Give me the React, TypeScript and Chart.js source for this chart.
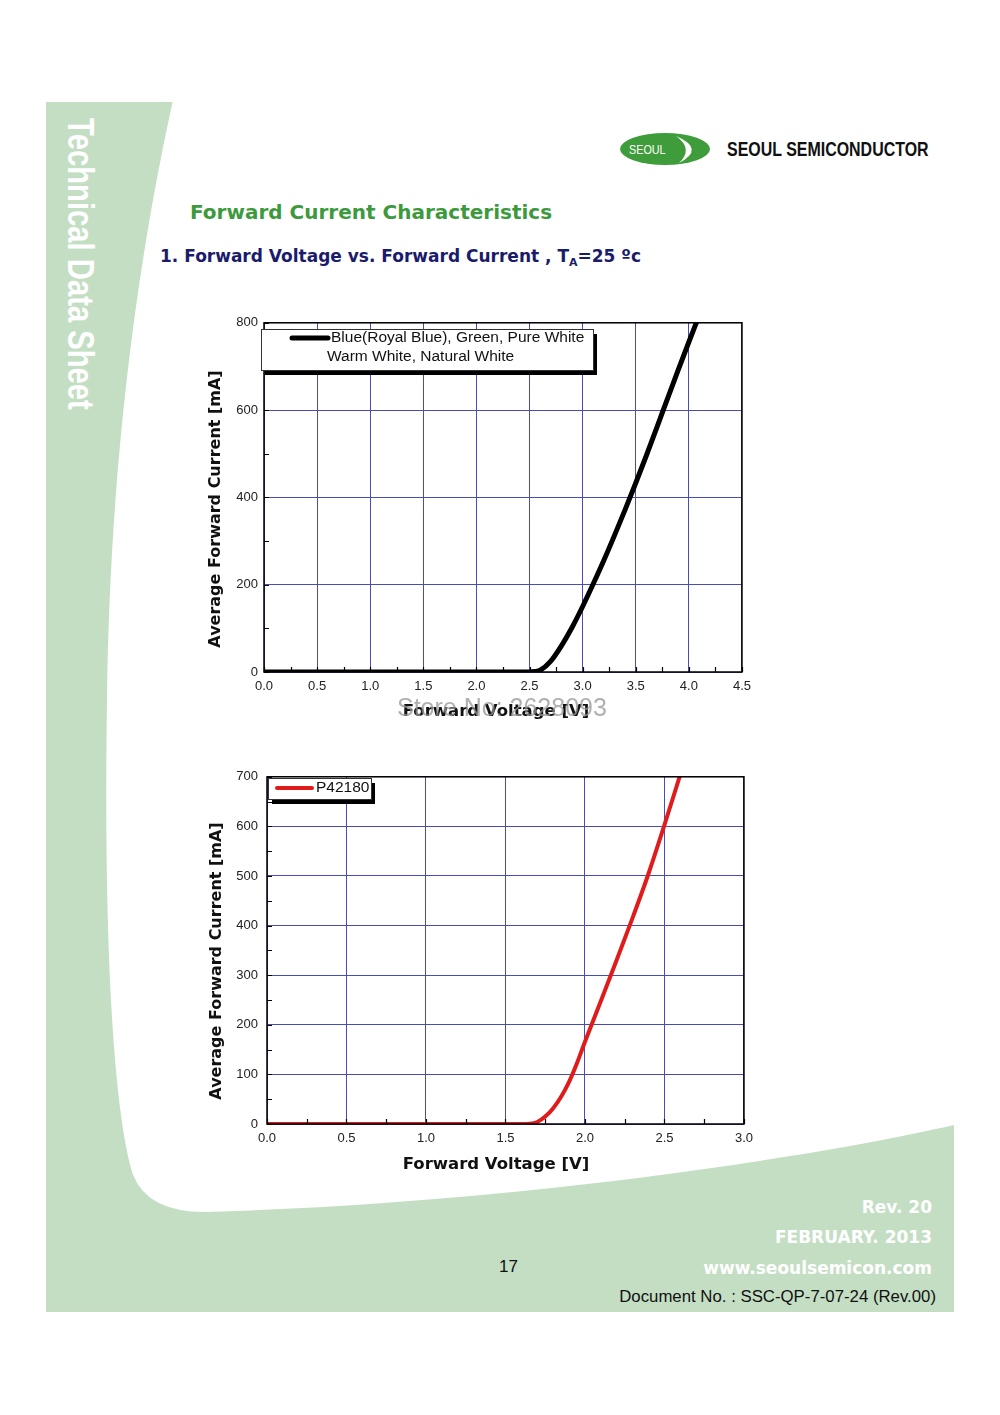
import { useEffect, useRef } from "react"
import { Chart, registerables } from "chart.js"

Chart.register(...registerables)

// Blue(Royal Blue), Green, Pure White, Warm White, Natural White
const blueVolts = [0, 2.5, 2.55, 2.6, 2.7, 2.8, 2.9, 3.0, 3.1, 3.2, 3.3, 3.4, 3.5, 3.6, 3.7, 3.8, 3.9, 4.0, 4.08]
const blueCurrent = [0, 0, 1, 4, 25, 60, 102, 150, 202, 256, 313, 372, 433, 496, 561, 627, 692, 756, 806]

// P42180
const redVolts = [0, 1.6, 1.65, 1.7, 1.75, 1.8, 1.85, 1.9, 1.95, 2.0, 2.1, 2.2, 2.3, 2.4, 2.5, 2.6]
const redCurrent = [0, 0, 0.5, 4, 15, 32, 55, 85, 123, 166, 248, 331, 416, 505, 603, 705]

const blueLegend = ["Blue(Royal Blue), Green, Pure White", "Warm White, Natural White"]
const redLegend = ["P42180"]

const xTitle = "Forward Voltage [V]"
const yTitle = "Average Forward Current [mA]"

const GRID = "#4a4ab8"
const TICK_FONT = "'Liberation Sans', Arial, sans-serif"
const TITLE_FONT = "'DejaVu Sans', Verdana, sans-serif"

interface LegendBox {
  x: number
  y: number
  w: number
  h: number
  lineX1: number
  lineX2: number
  textX: number[]
  rowY: number[]
}

interface FvChartProps {
  volts: number[]
  current: number[]
  color: string
  lineWidth: number
  xMax: number
  yMax: number
  yStep: number
  xMinor: number
  yMinor: number
  yPad: number
  legend: string[]
  box: LegendBox
  left: number
  top: number
  width: number
  height: number
  xAxisHeight: number
  xTitleAt: [number, number]
  yTitleAt: [number, number]
}

function FvChart(props: FvChartProps) {
  const chartRef = useRef<HTMLCanvasElement>(null)
  const chartInstance = useRef<Chart | null>(null)

  useEffect(() => {
    if (!chartRef.current) return
    if (chartInstance.current) chartInstance.current.destroy()
    const ctx = chartRef.current.getContext("2d")
    if (!ctx) return

    const frame = {
      id: "frame",
      afterDraw(chart: Chart) {
        const c = chart.ctx
        const a = chart.chartArea
        const xs = chart.scales.x
        const ys = chart.scales.y
        c.save()
        c.strokeStyle = "#000"
        c.lineWidth = 1.5
        c.strokeRect(a.left, a.top, a.right - a.left, a.bottom - a.top)
        // inward minor ticks
        c.lineWidth = 1.2
        c.beginPath()
        for (let v = 0; v <= props.xMax + 1e-9; v += props.xMinor) {
          const px = Math.round(xs.getPixelForValue(v)) + 0.5
          c.moveTo(px, a.bottom)
          c.lineTo(px, a.bottom - 5)
        }
        for (let v = 0; v <= props.yMax + 1e-9; v += props.yMinor) {
          const py = Math.round(ys.getPixelForValue(v)) + 0.5
          c.moveTo(a.left, py)
          c.lineTo(a.left + 5, py)
        }
        c.stroke()

        // axis titles
        c.fillStyle = "#111"
        c.textAlign = "center"
        c.textBaseline = "middle"
        c.font = `bold 16.5px ${TITLE_FONT}`
        c.fillText(xTitle, props.xTitleAt[0] - props.left, props.xTitleAt[1] - props.top)
        c.save()
        c.translate(props.yTitleAt[0] - props.left, props.yTitleAt[1] - props.top)
        c.rotate(-Math.PI / 2)
        c.font = `bold 16px ${TITLE_FONT}`
        c.fillText(yTitle, 0, 0)
        c.restore()

        // legend box with drop shadow
        const b = props.box
        c.textAlign = "left"
        c.fillStyle = "#000"
        c.fillRect(b.x + 4, b.y + 5, b.w, b.h)
        c.fillStyle = "#fff"
        c.fillRect(b.x, b.y, b.w, b.h)
        c.lineWidth = 1
        c.strokeStyle = "#333"
        c.strokeRect(b.x + 0.5, b.y + 0.5, b.w, b.h)
        c.strokeStyle = props.color
        c.lineWidth = props.lineWidth
        c.lineCap = "round"
        c.beginPath()
        c.moveTo(b.lineX1, b.rowY[0])
        c.lineTo(b.lineX2, b.rowY[0])
        c.stroke()
        c.fillStyle = "#111"
        c.font = `15.5px ${TICK_FONT}`
        props.legend.forEach((t, i) => c.fillText(t, b.textX[i], b.rowY[i]))
        c.restore()
      },
    }

    chartInstance.current = new Chart(ctx, {
      type: "line",
      data: {
        datasets: [
          {
            data: props.volts.map((v, i) => ({ x: v, y: props.current[i] })),
            borderColor: props.color,
            borderWidth: props.lineWidth,
            pointRadius: 0,
            cubicInterpolationMode: "monotone",
            fill: false,
          },
        ],
      },
      options: {
        animation: false,
        responsive: true,
        maintainAspectRatio: false,
        layout: { padding: { top: 10, right: 15, left: 0, bottom: 0 } },
        plugins: { legend: { display: false }, tooltip: { enabled: false } },
        scales: {
          x: {
            type: "linear",
            min: 0,
            max: props.xMax,
            border: { display: false },
            grid: { color: GRID, lineWidth: 1, drawTicks: false },
            ticks: {
              stepSize: 0.5,
              padding: 7,
              color: "#222",
              font: { family: TICK_FONT, size: 13 },
              callback: (v) => Number(v).toFixed(1),
            },
            afterFit: (scale) => {
              scale.height = props.xAxisHeight
            },
          },
          y: {
            min: 0,
            max: props.yMax,
            border: { display: false },
            grid: { color: GRID, lineWidth: 1, drawTicks: false },
            ticks: {
              stepSize: props.yStep,
              padding: props.yPad,
              color: "#222",
              font: { family: TICK_FONT, size: 13 },
            },
            afterFit: (scale) => {
              scale.width = 69
            },
          },
        },
      },
      plugins: [frame],
    })

    return () => {
      if (chartInstance.current) {
        chartInstance.current.destroy()
        chartInstance.current = null
      }
    }
  }, [props])

  return (
    <div
      style={{
        position: "absolute",
        left: props.left,
        top: props.top,
        width: props.width,
        height: props.height,
      }}
    >
      <canvas ref={chartRef} />
    </div>
  )
}

const chartOne: FvChartProps = {
  volts: blueVolts,
  current: blueCurrent,
  color: "#000",
  lineWidth: 5,
  xMax: 4.5,
  yMax: 800,
  yStep: 200,
  xMinor: 0.25,
  yMinor: 100,
  yPad: 6,
  legend: blueLegend,
  box: { x: 66, y: 20, w: 332, h: 41, lineX1: 97, lineX2: 133, textX: [136, 132], rowY: [29, 48] },
  left: 195,
  top: 309,
  width: 563,
  height: 415,
  xAxisHeight: 52,
  xTitleAt: [496, 712],
  yTitleAt: [216, 509],
}

const chartTwo: FvChartProps = {
  volts: redVolts,
  current: redCurrent,
  color: "#e01b1b",
  lineWidth: 4,
  xMax: 3,
  yMax: 700,
  yStep: 100,
  xMinor: 0.25,
  yMinor: 50,
  yPad: 9,
  legend: redLegend,
  box: { x: 70, y: 18, w: 103, h: 21, lineX1: 79, lineX2: 114, textX: [118], rowY: [28] },
  left: 198,
  top: 760,
  width: 562,
  height: 417,
  xAxisHeight: 53,
  xTitleAt: [496, 1165],
  yTitleAt: [217, 961],
}

const abs = (o: React.CSSProperties): React.CSSProperties => ({ position: "absolute", margin: 0, whiteSpace: "nowrap", ...o })

export default function App() {
  useEffect(() => {
    document.body.style.margin = "0"
  }, [])

  const arial = "'Liberation Sans', Arial, sans-serif"
  const verdana = "'DejaVu Sans', Verdana, sans-serif"

  return (
    <div style={{ position: "relative", width: 1000, height: 1415, background: "#fff", overflow: "hidden" }}>
      <svg width={1000} height={1415} style={{ position: "absolute", left: 0, top: 0 }}>
        <rect x={46} y={102} width={908} height={1210} fill="#c4dec4" />
        <path
          d="M 173 100 C 140 250 110 450 107 700 C 104 900 110 1100 133 1175 Q 148 1212 205 1212 C 500 1204 800 1160 954 1125 L 960 1125 L 960 100 Z"
          fill="#fff"
        />
        <ellipse cx={665} cy={149} rx={45} ry={16} fill="#3f9c3a" />
        <path d="M 676 136 Q 706 149 679 163 Q 694 149 676 136 Z" fill="#fff" />
      </svg>

      <div
        style={abs({
          left: 99,
          top: 118,
          transform: "rotate(90deg) scaleX(0.79)",
          transformOrigin: "left top",
          color: "#fff",
          font: `bold 37px/37px ${arial}`,
        })}
      >
        Technical Data Sheet
      </div>

      <div style={abs({ left: 629, top: 143, color: "#fff", font: `12px/14px ${arial}`, transform: "scaleX(0.9)", transformOrigin: "left top" })}>
        SEOUL
      </div>
      <div
        style={abs({
          left: 727,
          top: 137,
          color: "#111",
          font: `bold 21px/24px ${arial}`,
          transform: "scaleX(0.76)",
          transformOrigin: "left top",
        })}
      >
        SEOUL SEMICONDUCTOR
      </div>

      <div style={abs({ left: 190, top: 199, color: "#3c9a3c", font: `bold 20px/26px ${verdana}` })}>
        Forward Current Characteristics
      </div>
      <div style={abs({ left: 160, top: 244, color: "#1b1b6b", font: `bold 17px/24px ${verdana}` })}>
        1. Forward Voltage vs. Forward Current , T<sub style={{ fontSize: 11 }}>A</sub>=25 ºc
      </div>

      <FvChart {...chartOne} />
      <FvChart {...chartTwo} />

      <div
        style={abs({
          left: 397,
          top: 692,
          color: "rgba(150,150,150,0.75)",
          font: `25px/30px ${arial}`,
        })}
      >
        Store No: 2628093
      </div>

      <div style={abs({ right: 68, top: 1196, color: "#fff", font: `bold 17px/22px ${verdana}`, textAlign: "right" })}>Rev. 20</div>
      <div style={abs({ right: 68, top: 1226, color: "#fff", font: `bold 17px/22px ${verdana}`, textAlign: "right" })}>FEBRUARY. 2013</div>
      <div style={abs({ right: 68, top: 1257, color: "#fff", font: `bold 17px/22px ${verdana}`, textAlign: "right" })}>www.seoulsemicon.com</div>
      <div style={abs({ left: 499, top: 1256, color: "#111", font: `17px/22px ${arial}` })}>17</div>
      <div style={abs({ right: 64, top: 1286, color: "#111", font: `16.8px/22px ${arial}`, textAlign: "right" })}>
        Document No. : SSC-QP-7-07-24 (Rev.00)
      </div>
    </div>
  )
}
